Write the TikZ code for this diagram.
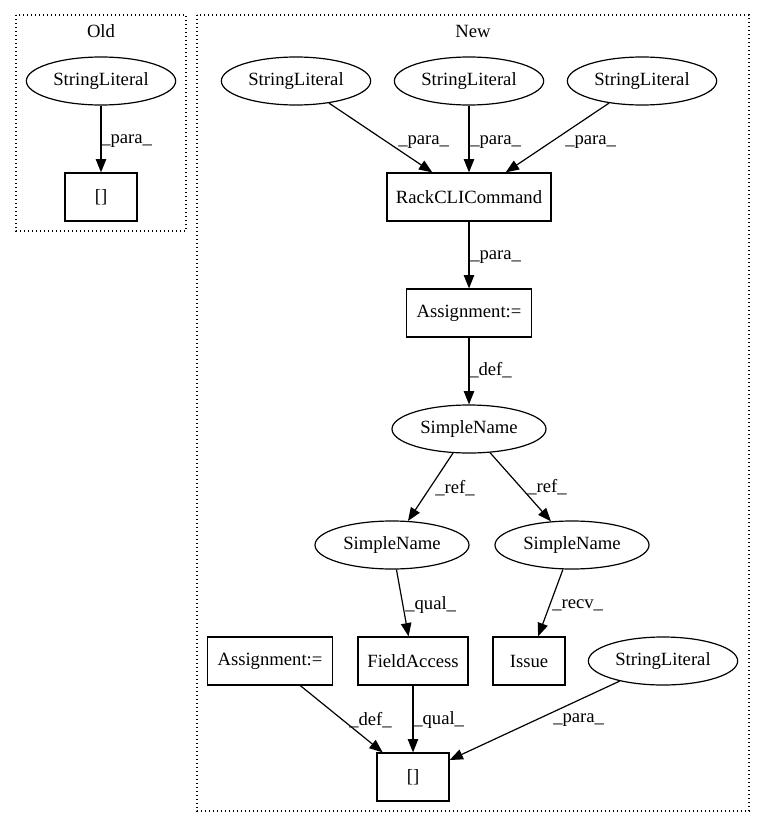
\documentclass[tikz,border=0pt]{standalone}
\usepackage{fontspec}
\setmainfont{Liberation Serif}
\usetikzlibrary{arrows.meta,shapes.geometric}

\begin{document}
\begin{tikzpicture}[x=0.75pt,y=-0.75pt]
  \tikzset{every node/.style={font=\fontsize{14}{16}\selectfont},
           lit/.style={draw,line width=0.9pt,ellipse,minimum width=112pt,minimum height=36pt,inner sep=0pt},
           nm/.style={draw,line width=0.9pt,ellipse,minimum width=115.5pt,minimum height=36pt,inner sep=0pt},
           box/.style={draw,line width=0.9pt,rectangle,minimum height=36pt,inner sep=0pt},
           lbl/.style={anchor=west,inner sep=0pt},
           edge/.style={line width=0.9pt,-{Triangle[length=10pt,width=7.8pt]}},
           cluster/.style={line width=0.9pt,dash pattern=on 0.8pt off 2.2pt}}
  \useasboundingbox (0,0) rectangle (765,828);
  \draw[cluster] (16,15) rectangle (186,231);
  \draw[cluster] (197,15) rectangle (749,811);
  \node (Old) at (101,31) {Old};
  \node (New) at (473,31) {New};

  \node[lit] (SLo) at (101,81) {StringLiteral};
  \node[box,minimum width=54pt] (BRo) at (101,197) {[]};

  \node[lit] (SLa) at (296,81) {StringLiteral};
  \node[lit] (SLb) at (469,81) {StringLiteral};
  \node[lit] (SLc) at (642,81) {StringLiteral};
  \node[box,minimum width=123pt] (RCC) at (469,197) {RackCLICommand};
  \node[box,minimum width=94pt] (ASGa) at (469,313) {Assignment:=};
  \node[nm] (SNt) at (469,429) {SimpleName};
  \node[nm] (SNl) at (392,545) {SimpleName};
  \node[nm] (SNr) at (572,545) {SimpleName};
  \node[box,minimum width=94pt] (ASGb) at (270,661) {Assignment:=};
  \node[box,minimum width=82.5pt] (FA) at (413,661) {FieldAccess};
  \node[box,minimum width=54pt] (ISS) at (529,661) {Issue};
  \node[lit] (SLd) at (663,661) {StringLiteral};
  \node[box,minimum width=54pt] (BRn) at (413,777) {[]};

  \draw[edge] (SLo) -- (BRo);
  \draw[edge] (SLa) -- (RCC);
  \draw[edge] (SLb) -- (RCC);
  \draw[edge] (SLc) -- (RCC);
  \draw[edge] (RCC) -- (ASGa);
  \draw[edge] (ASGa) -- (SNt);
  \draw[edge] (SNt) -- (SNl);
  \draw[edge] (SNt) -- (SNr);
  \draw[edge] (SNl) -- (FA);
  \draw[edge] (SNr) -- (ISS);
  \draw[edge] (ASGb) -- (BRn);
  \draw[edge] (FA) -- (BRn);
  \draw[edge] (SLd) -- (BRn);

  \node[lbl] (Lo) at (101,141) {\_para\_};
  \node[lbl] (La) at (398,142) {\_para\_};
  \node[lbl] (Lb) at (470,142) {\_para\_};
  \node[lbl] (Lc) at (565,142) {\_para\_};
  \node[lbl] (Ld) at (470,257) {\_para\_};
  \node[lbl] (Le) at (469,370) {\_def\_};
  \node[lbl] (Lf) at (435,488) {\_ref\_};
  \node[lbl] (Lg) at (527,487) {\_ref\_};
  \node[lbl] (Lh) at (405,605) {\_qual\_};
  \node[lbl] (Li) at (552,605) {\_recv\_};
  \node[lbl] (Lj) at (349,720) {\_def\_};
  \node[lbl] (Lk) at (413,720) {\_qual\_};
  \node[lbl] (Ll) at (553,720) {\_para\_};
\end{tikzpicture}
\end{document}
